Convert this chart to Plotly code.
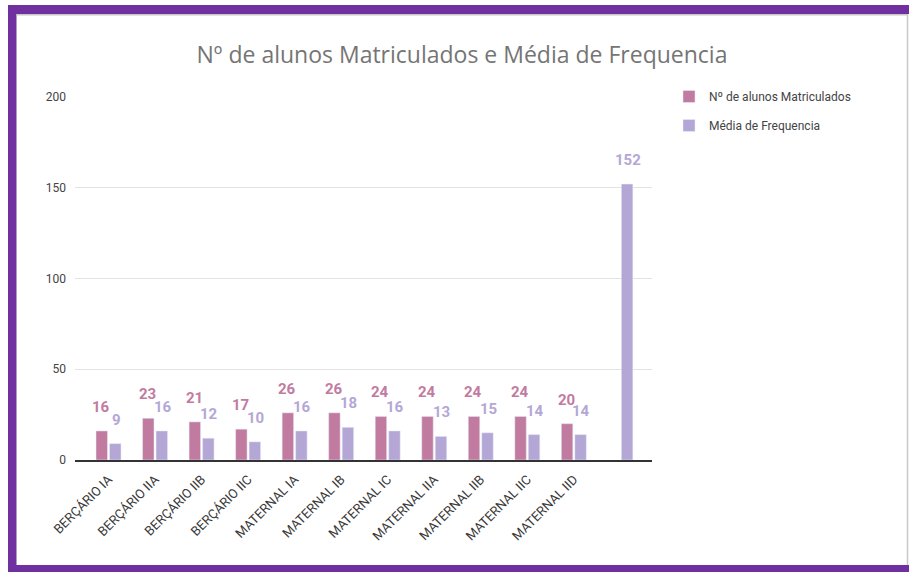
import plotly.graph_objects as go

categories = ["BERÇÁRIO IA", "BERÇÁRIO IIA", "BERÇÁRIO IIB", "BERÇÁRIO IIC",
              "MATERNAL IA", "MATERNAL IB", "MATERNAL IC", "MATERNAL IIA",
              "MATERNAL IIB", "MATERNAL IIC", "MATERNAL IID", " "]
matriculados = [16, 23, 21, 17, 26, 26, 24, 24, 24, 24, 20, None]
frequencia = [9, 16, 12, 10, 16, 18, 16, 13, 15, 14, 14, 152]
y_ticks = [0, 50, 100, 150, 200]

PINK = "#c27ba0"
PURPLE = "#b4a7d6"
FRAME = "#7030a0"

W, H = 909, 572
L, R, T, B = 75, 652, 97, 460


def px_x(x):
    return (x - L) / (R - L)


def px_y(y):
    return (B - y) / (B - T)


fig = go.Figure()
fig.add_trace(go.Bar(x=categories, y=matriculados, name="Nº de alunos Matriculados",
                     marker_color=PINK, legendgroup="a"))
fig.add_trace(go.Bar(x=categories, y=frequencia, name="Média de Frequencia",
                     marker_color=PURPLE, legendgroup="b"))

annotations = []
for series, color, shift in ((matriculados, "#c27ba0", -7.5), (frequencia, "#b4a7d6", 7.5)):
    for c, v in zip(categories, series):
        if v is None:
            continue
        annotations.append(dict(x=c, y=v, xref="x", yref="y", text=str(v), showarrow=False,
                                xshift=shift, yshift=24, yanchor="middle", xanchor="center",
                                font=dict(family="Roboto", size=15, color=color, weight="bold")))

shapes = [
    # purple frame
    dict(type="rect", xref="paper", yref="paper", x0=px_x(8), x1=px_x(16.5),
         y0=px_y(575), y1=px_y(5), fillcolor=FRAME, line_width=0, layer="above"),
    dict(type="rect", xref="paper", yref="paper", x0=px_x(8), x1=px_x(915),
         y0=px_y(14), y1=px_y(5), fillcolor=FRAME, line_width=0, layer="above"),
    dict(type="rect", xref="paper", yref="paper", x0=px_x(8), x1=px_x(915),
         y0=px_y(575), y1=px_y(565), fillcolor=FRAME, line_width=0, layer="above"),
    dict(type="line", xref="paper", yref="paper", x0=px_x(907.5), x1=px_x(907.5),
         y0=px_y(565), y1=px_y(14), line=dict(color="#c8c8c8", width=1.5), layer="above"),
    dict(type="line", xref="paper", yref="paper", x0=px_x(16.5), x1=px_x(908),
         y0=px_y(14.8), y1=px_y(14.8), line=dict(color="#c8c8c8", width=1.5), layer="above"),
]

fig.update_layout(
    width=W, height=H,
    margin=dict(l=L, r=W - R, t=T, b=H - B, pad=0),
    paper_bgcolor="white", plot_bgcolor="white",
    title=dict(text="Nº de alunos Matriculados e Média de Frequencia",
               x=462 / W, xref="container", xanchor="center",
               y=1 - 55 / H, yref="container", yanchor="middle",
               font=dict(family="Open Sans", size=23, color="#757575")),
    barmode="group", bargap=0.42, bargroupgap=0.15,
    showlegend=True,
    legend=dict(x=px_x(669), y=px_y(82), xanchor="left", yanchor="top",
                traceorder="grouped", tracegroupgap=10,
                font=dict(family="Roboto", size=12, color="#444444"),
                bgcolor="rgba(0,0,0,0)"),
    annotations=annotations,
    shapes=shapes,
    font=dict(family="Roboto", color="#444444"),
)

fig.update_xaxes(type="category", range=[-0.72, 11.68], tickangle=-45,
                 showline=True, linecolor="#333333", linewidth=1.5,
                 showgrid=False, ticks="", ticklabelstandoff=5,
                 tickfont=dict(family="Roboto", size=13, color="#3a3a3a"))
fig.update_yaxes(range=[0, 200], tickvals=y_ticks, showgrid=True, gridcolor="#e3e3e3",
                 gridwidth=1, zeroline=False, showline=False, ticks="",
                 ticklabelstandoff=8,
                 tickfont=dict(family="Roboto", size=12, color="#444444"))

fig.write_html("out.html", config={"displayModeBar": False},
               post_script="document.body.style.margin='0';document.body.style.overflow='hidden';")
